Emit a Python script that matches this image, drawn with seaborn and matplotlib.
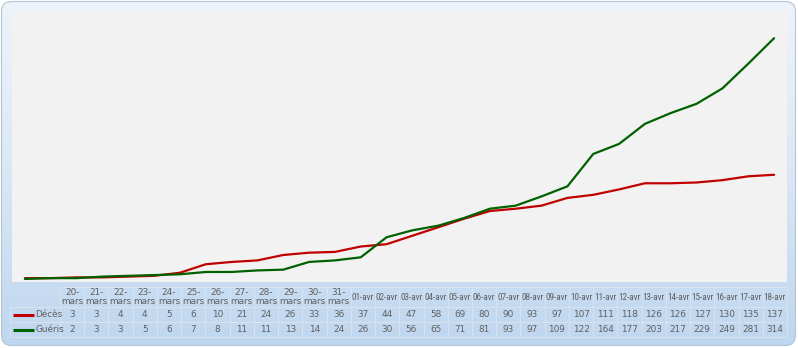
import numpy as np
import pandas as pd
import matplotlib
matplotlib.use("Agg")
import matplotlib.pyplot as plt
from matplotlib.patches import FancyBboxPatch
from matplotlib import font_manager
import seaborn as sns

dates = ["20-mars", "21-mars", "22-mars", "23-mars", "24-mars", "25-mars", "26-mars",
         "27-mars", "28-mars", "29-mars", "30-mars", "31-mars", "01-avr", "02-avr",
         "03-avr", "04-avr", "05-avr", "06-avr", "07-avr", "08-avr", "09-avr", "10-avr",
         "11-avr", "12-avr", "13-avr", "14-avr", "15-avr", "16-avr", "17-avr", "18-avr"]
deces = [3, 3, 4, 4, 5, 6, 10, 21, 24, 26, 33, 36, 37, 44, 47, 58, 69, 80, 90, 93,
         97, 107, 111, 118, 126, 126, 127, 130, 135, 137]
gueris = [2, 3, 3, 5, 6, 7, 8, 11, 11, 13, 14, 24, 26, 30, 56, 65, 71, 81, 93, 97,
          109, 122, 164, 177, 203, 217, 229, 249, 281, 314]
series_names = ["Décès", "Guéris"]
colors = {"Décès": "#C00000", "Guéris": "#006100"}

sns.set_theme(style="white")

# choose a narrow font if one is available
names = {f.name for f in font_manager.fontManager.ttflist}
narrow = None
for cand in ["Liberation Sans Narrow", "DejaVu Sans Condensed", "Roboto Condensed",
             "Open Sans Condensed"]:
    if cand in names:
        narrow = cand
        break
cond_files = [f for f in font_manager.fontManager.ttflist
              if f.name == "DejaVu Sans" and "Condensed" in f.fname and f.weight in (400, "normal")]
if narrow is None and cond_files:
    narrow_prop = font_manager.FontProperties(fname=cond_files[0].fname, size=6.6)
elif narrow is not None:
    narrow_prop = font_manager.FontProperties(family=narrow, size=6.6)
else:
    narrow_prop = font_manager.FontProperties(family="DejaVu Sans", size=5.2)
plt.rcParams["font.family"] = ["DejaVu Sans"]

W, H = 798, 348
fig = plt.figure(figsize=(W / 100, H / 100), dpi=100)
fig.patch.set_facecolor("white")

# background with gradient and rounded border
bg = fig.add_axes([0, 0, 1, 1], zorder=0)
bg.set_xlim(0, W)
bg.set_ylim(H, 0)
bg.axis("off")
grad = np.linspace(0, 1, 256).reshape(-1, 1)
top = np.array([0.925, 0.950, 0.980])
bot = np.array([0.745, 0.840, 0.937])
img = top + (bot - top) * grad[..., None] ** 1.3
im = bg.imshow(img, extent=[1, W - 2, H - 2, 1], aspect="auto", zorder=0)
box = FancyBboxPatch((1.5, 1.5), W - 4, H - 4, boxstyle="round,pad=0,rounding_size=10",
                     fc="none", ec="#B8C4D0", lw=0.8, zorder=2)
bg.add_patch(box)
im.set_clip_path(box)

# main plot
ax = fig.add_axes([12 / W, 1 - 282 / H, (787 - 12) / W, (282 - 12) / H], zorder=1)
ax.set_facecolor("#F2F2F2")
df = pd.DataFrame({
    "idx": list(range(len(dates))) * 2,
    "value": deces + gueris,
    "series": [series_names[0]] * len(dates) + [series_names[1]] * len(dates),
})
sns.lineplot(data=df, x="idx", y="value", hue="series", palette=colors,
             linewidth=1.6, ax=ax, legend=False)
ax.set_xlim(-0.5, len(dates) - 0.5)
ax.set_ylim(-2, 348)
ax.set_xticks([])
ax.set_yticks([])
ax.set_xlabel("")
ax.set_ylabel("")
for s in ax.spines.values():
    s.set_visible(False)

# data table
tb = fig.add_axes([0, 0, 1, 1], zorder=3)
tb.patch.set_alpha(0)
tb.set_xlim(0, W)
tb.set_ylim(H, 0)
tb.axis("off")
x0, x1 = 60, 787
lx0 = 10
cw = (x1 - x0) / len(dates)
y_top, y_h, y_r1, y_r2 = 287, 307, 322, 337
gc = "#D6E2EE"
tb.plot([x0, x1], [y_top, y_top], color=gc, lw=0.8)
for y in (y_h, y_r1, y_r2):
    tb.plot([lx0, x1], [y, y], color=gc, lw=0.8)
tb.plot([lx0, lx0], [y_h, y_r2], color=gc, lw=0.8)
for i in range(len(dates) + 1):
    xx = x0 + i * cw
    tb.plot([xx, xx], [y_top, y_r2], color=gc, lw=0.8)
tc = "#606060"
fs = 6.4
for i, d in enumerate(dates):
    xc = x0 + (i + 0.5) * cw
    if d.endswith("mars"):
        day, mon = d.split("-")
        tb.text(xc, (y_top + y_h) / 2 - 4.5, day + "-", ha="center", va="center",
                fontsize=fs, color=tc)
        tb.text(xc, (y_top + y_h) / 2 + 4.5, mon, ha="center", va="center",
                fontsize=fs, color=tc)
    else:
        tb.text(xc, (y_top + y_h) / 2, d, ha="center", va="center", color=tc,
                fontproperties=narrow_prop)
    tb.text(xc, (y_h + y_r1) / 2, str(deces[i]), ha="center", va="center",
            fontsize=fs, color=tc)
    tb.text(xc, (y_r1 + y_r2) / 2, str(gueris[i]), ha="center", va="center",
            fontsize=fs, color=tc)
for name, (ya, yb) in zip(series_names, [(y_h, y_r1), (y_r1, y_r2)]):
    yc = (ya + yb) / 2
    tb.plot([13, 34], [yc, yc], color=colors[name], lw=2.2, solid_capstyle="butt")
    tb.text(35, yc, name, ha="left", va="center", fontsize=fs, color=tc)

fig.savefig("out.png", dpi=100)
